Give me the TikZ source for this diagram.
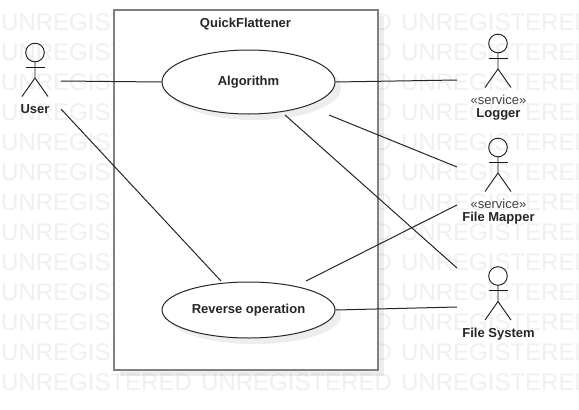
\documentclass[tikz,border=0pt]{standalone}
\usepackage{fontspec}
\setmainfont{Liberation Sans}
\usetikzlibrary{shapes.geometric,shadows}
\tikzset{
  watermark/.style={text=black!6,font=\fontsize{24}{24}\selectfont,anchor=west,inner sep=0pt},
  boundary/.style={draw=black!50,line width=2pt,fill=white,minimum width=264pt,minimum height=360pt,inner sep=0pt,
    drop shadow={shadow xshift=6pt,shadow yshift=-6pt,fill=black,opacity=.07}},
  usecase/.style={ellipse,draw=black!85,line width=1pt,fill=white,minimum width=173pt,inner sep=0pt,
    font=\fontsize{13}{13}\selectfont\bfseries,text=black!85,
    drop shadow={shadow xshift=6pt,shadow yshift=-6pt,fill=black,opacity=.07}},
  title/.style={font=\fontsize{13}{13}\selectfont\bfseries,text=black!85,inner sep=0pt},
  stereo/.style={font=\fontsize{13}{13}\selectfont,text=black!75,inner sep=0pt},
  assoc/.style={draw=black!85,line width=1pt},
  actor/.pic={
    \draw[black!90,line width=.9pt] (0,0) circle (9.3);
    \draw[black!90,line width=.9pt] (0,9.3) -- (0,25.5) -- (-13,44);
    \draw[black!90,line width=.9pt] (0,25.5) -- (13,44);
    \draw[black!90,line width=.9pt] (-9.5,14.5) -- (9.5,14.5);
  }
}
\begin{document}
\begin{tikzpicture}[x=1pt,y=-1pt]
  \useasboundingbox (0,0) rectangle (579,410);
  \fill[white] (0,0) rectangle (579,410);
  % background text
  \foreach \row in {22,52,...,382}
    \foreach \col in {1,201,401}
      \node[watermark] (back\col-\row) at (\col,\row) {UNREGISTERED};

  \node[boundary] (system) at (246,190) {};
  \node[title] (systemname) at (245.5,24) {QuickFlattener};

  \node[usecase,minimum height=64pt] (algorithm) at (248.5,82) {\raisebox{-1pt}{Algorithm}};
  \node[usecase,minimum height=56pt] (reverse) at (248.5,310) {\raisebox{-1pt}{Reverse operation}};

  % actors
  \pic at (35,52.5) {actor};
  \pic at (498,43.5) {actor};
  \pic at (498,147.5) {actor};
  \pic at (498,276) {actor};

  \node[title] (user) at (35,109) {User};
  \node[stereo] (loggertag) at (498.5,100) {«service»};
  \node[title] (logger) at (498.5,114.5) {Logger};
  \node[stereo] (mappertag) at (498.5,204) {«service»};
  \node[title] (mapper) at (498.5,218.5) {File Mapper};
  \node[title] (filesystem) at (498.5,334.5) {File System};

  % free ends
  \coordinate (userup) at (61,81);
  \coordinate (userdown) at (61,109);
  \coordinate (reversein) at (221,281);
  \coordinate (algomapper) at (329,115);
  \coordinate (algofiles) at (285,115);
  \coordinate (reversemapper) at (306,281);
  \coordinate (loggerend) at (457,80);
  \coordinate (mapperup) at (457,167);
  \coordinate (mapperdown) at (457,205);
  \coordinate (filesup) at (457,268);
  \coordinate (filesdown) at (457,307);

  \draw[assoc] (userup) -- (algorithm.west);
  \draw[assoc] (userdown) -- (reversein);
  \draw[assoc] (algorithm.east) -- (loggerend);
  \draw[assoc] (algomapper) -- (mapperup);
  \draw[assoc] (algofiles) -- (filesup);
  \draw[assoc] (reversemapper) -- (mapperdown);
  \draw[assoc] (reverse.east) -- (filesdown);
\end{tikzpicture}
\end{document}
